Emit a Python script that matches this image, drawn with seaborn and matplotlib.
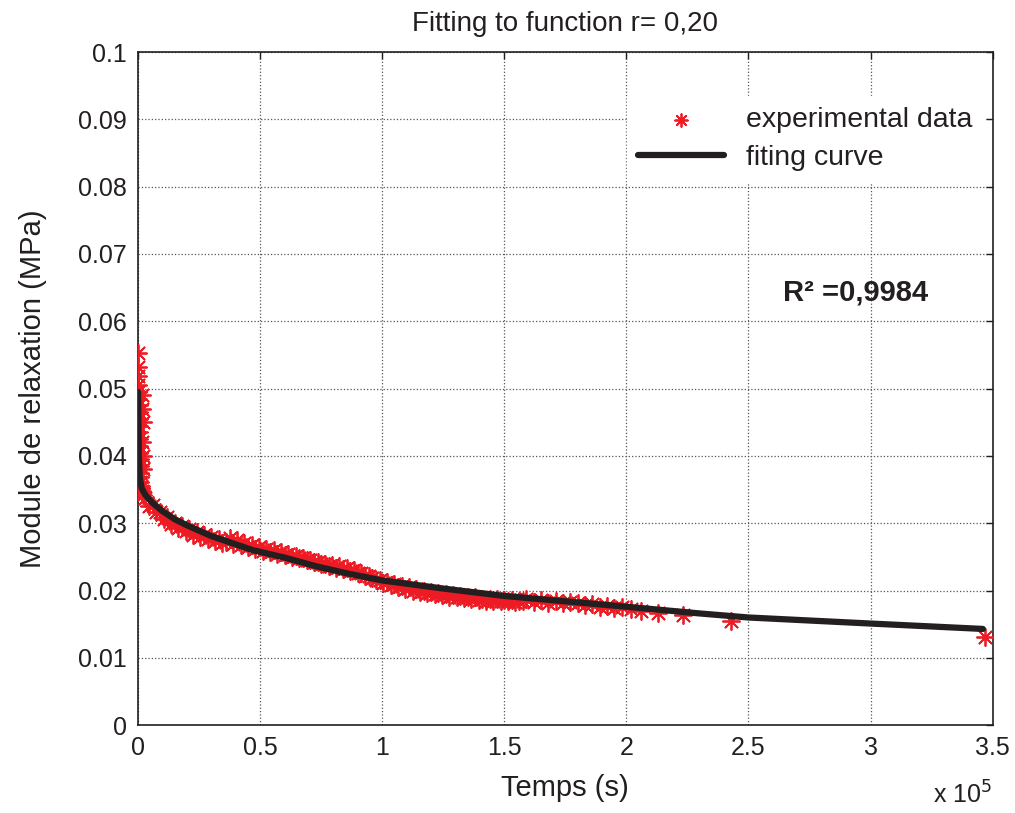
import matplotlib
matplotlib.use("Agg")
import matplotlib.pyplot as plt
import seaborn as sns
import pandas as pd
from matplotlib.ticker import MultipleLocator, FormatStrFormatter

# donnees experimentales : temps (s) et module de relaxation (MPa)
temps_exp = [0, 0, 50, 100, 100, 150, 200, 200, 250, 300, 350, 400, 450, 500,
             600, 700, 800, 900, 1000, 1200, 1400, 1600, 1800, 2000,
             1500, 1800, 2000, 1600, 2100, 1900,
             3000, 6000, 9000, 12000, 15000, 18000, 21000, 24000, 27000, 30000,
             33000, 36000, 39000, 42000, 45000, 48000, 51000, 54000, 57000, 60000,
             63000, 66000, 69000, 72000, 75000, 78000, 81000, 84000, 87000, 90000,
             93000, 96000, 99000, 102000, 105000, 108000, 111000, 114000, 117000, 120000,
             123000, 126000, 129000, 132000, 135000, 138000, 141000, 144000, 147000, 150000,
             153000, 156000, 159000,
             4500, 7500, 10500, 13500, 16500, 19500, 22500, 25500, 28500, 31500,
             34500, 37500, 40500, 43500, 46500, 49500, 52500, 55500, 58500, 61500,
             64500, 67500, 70500, 73500, 76500, 79500, 82500, 85500, 88500, 91500,
             94500, 97500, 100500, 103500, 106500, 109500, 112500, 115500, 118500, 121500,
             124500, 127500, 130500, 133500, 136500, 139500, 142500, 145500, 148500, 151500,
             154500, 157500,
             162000, 165000, 168000, 171000, 174000, 177000, 180000, 183000, 186000, 189000,
             192000, 195000, 198000, 202000, 206000, 213000, 223000, 243000, 347000]
module_exp = [0.0553, 0.0532, 0.0518, 0.0505, 0.0495, 0.0485, 0.0475, 0.0465, 0.0455, 0.0445,
              0.0435, 0.0425, 0.0415, 0.0405, 0.0395, 0.0385, 0.0375, 0.0368, 0.0362, 0.0356,
              0.0352, 0.0348, 0.0345, 0.0342,
              0.0490, 0.0470, 0.0450, 0.0420, 0.0400, 0.0380,
              0.0338, 0.0327, 0.0317, 0.0309, 0.0301, 0.0296, 0.0291, 0.0287, 0.0283, 0.0280,
              0.0276, 0.0272, 0.0269, 0.0267, 0.0264, 0.0262, 0.0259, 0.0257, 0.0255, 0.0253,
              0.0250, 0.0248, 0.0245, 0.0242, 0.0239, 0.0236, 0.0234, 0.0232, 0.0229, 0.0226,
              0.0222, 0.0219, 0.0216, 0.0213, 0.0210, 0.0207, 0.0205, 0.0203, 0.0200, 0.0198,
              0.0196, 0.0195, 0.0194, 0.0192, 0.0190, 0.0190, 0.0188, 0.0188, 0.0187, 0.0186,
              0.0186, 0.0185, 0.0187,
              0.0326, 0.0316, 0.0307, 0.0299, 0.0293, 0.0288, 0.0283, 0.0279, 0.0276, 0.0273,
              0.0271, 0.0278, 0.0275, 0.0271, 0.0268, 0.0265, 0.0262, 0.0260, 0.0257, 0.0255,
              0.0252, 0.0249, 0.0246, 0.0243, 0.0240, 0.0238, 0.0236, 0.0233, 0.0230, 0.0226,
              0.0221, 0.0216, 0.0211, 0.0208, 0.0205, 0.0203, 0.0200, 0.0198, 0.0196, 0.0195,
              0.0193, 0.0191, 0.0190, 0.0189, 0.0187, 0.0186, 0.0185, 0.0185, 0.0184, 0.0184,
              0.0183, 0.0184,
              0.0183, 0.0186, 0.0182, 0.0184, 0.0181, 0.0183, 0.0182, 0.0178, 0.0180, 0.0176,
              0.0177, 0.0174, 0.0175, 0.0172, 0.0170, 0.0166, 0.0164, 0.0155, 0.0131]

# courbe de fit
temps_fit = [0, 300, 700, 1500, 3000, 6000, 10000, 15000, 20000, 30000, 47000, 60000,
             73000, 85000, 100000, 125000, 150000, 175000, 200000, 230000, 250000,
             300000, 346000]
module_fit = [0.0495, 0.0400, 0.0368, 0.0352, 0.0342, 0.0330, 0.0318, 0.0306, 0.0297,
              0.0281, 0.0260, 0.0249, 0.0236, 0.0226, 0.0215, 0.0203, 0.0192, 0.0184,
              0.0176, 0.0166, 0.0160, 0.0151, 0.0143]

df_exp = pd.DataFrame({"t": [t / 1e5 for t in temps_exp], "E": module_exp})
df_fit = pd.DataFrame({"t": [t / 1e5 for t in temps_fit], "E": module_fit})

sns.set_style("white")
plt.rcParams['font.family'] = ['Liberation Sans', 'DejaVu Sans']

fig = plt.figure(figsize=(10.15, 8.13), dpi=100)
ax = fig.add_axes([0.136, 0.108, 0.842, 0.828])

sns.scatterplot(data=df_exp, x="t", y="E", ax=ax, marker=(8, 2, 0), s=150,
                color="#ED1C24", linewidth=1.3, label="experimental data", zorder=3)
sns.lineplot(data=df_fit, x="t", y="E", ax=ax, color="#231F20", linewidth=4.5,
             label="fiting curve", sort=False, estimator=None, zorder=4)

ax.set_xlim(0, 3.5)
ax.set_ylim(0, 0.1)
ax.xaxis.set_major_locator(MultipleLocator(0.5))
ax.yaxis.set_major_locator(MultipleLocator(0.01))
ax.xaxis.set_major_formatter(FormatStrFormatter('%g'))
ax.yaxis.set_major_formatter(FormatStrFormatter('%g'))
ax.tick_params(direction='in', length=5, width=1, labelsize=18, top=True, right=True,
               colors='#231F20', pad=8)
ax.grid(True, linestyle=':', color='#555555', linewidth=0.9)
for sp in ax.spines.values():
    sp.set_color('#231F20')
    sp.set_linewidth(1.2)

ax.set_xlabel("Temps (s)", fontsize=21, color='#231F20', labelpad=10)
ax.set_ylabel("Module de relaxation (MPa)", fontsize=21, color='#231F20', labelpad=22)
ax.set_title("Fitting to function r= 0,20", fontsize=20, color='#231F20', pad=15)

ax.text(2.94, 0.0643, "R² =0,9984", fontsize=21, fontweight='bold', ha='center',
        va='center', color='#231F20')
fig.text(0.948, 0.022, r"x 10$^5$", fontsize=18, ha='center', va='center', color='#231F20')

leg = ax.legend(loc='upper right', bbox_to_anchor=(0.99, 0.935), borderaxespad=0,
                fontsize=20.5, frameon=True, fancybox=False, edgecolor='white',
                framealpha=1, handlelength=3.0, labelspacing=0.4, markerscale=0.75)
for t in leg.get_texts():
    t.set_color('#231F20')

fig.savefig("out.png", dpi=100)
